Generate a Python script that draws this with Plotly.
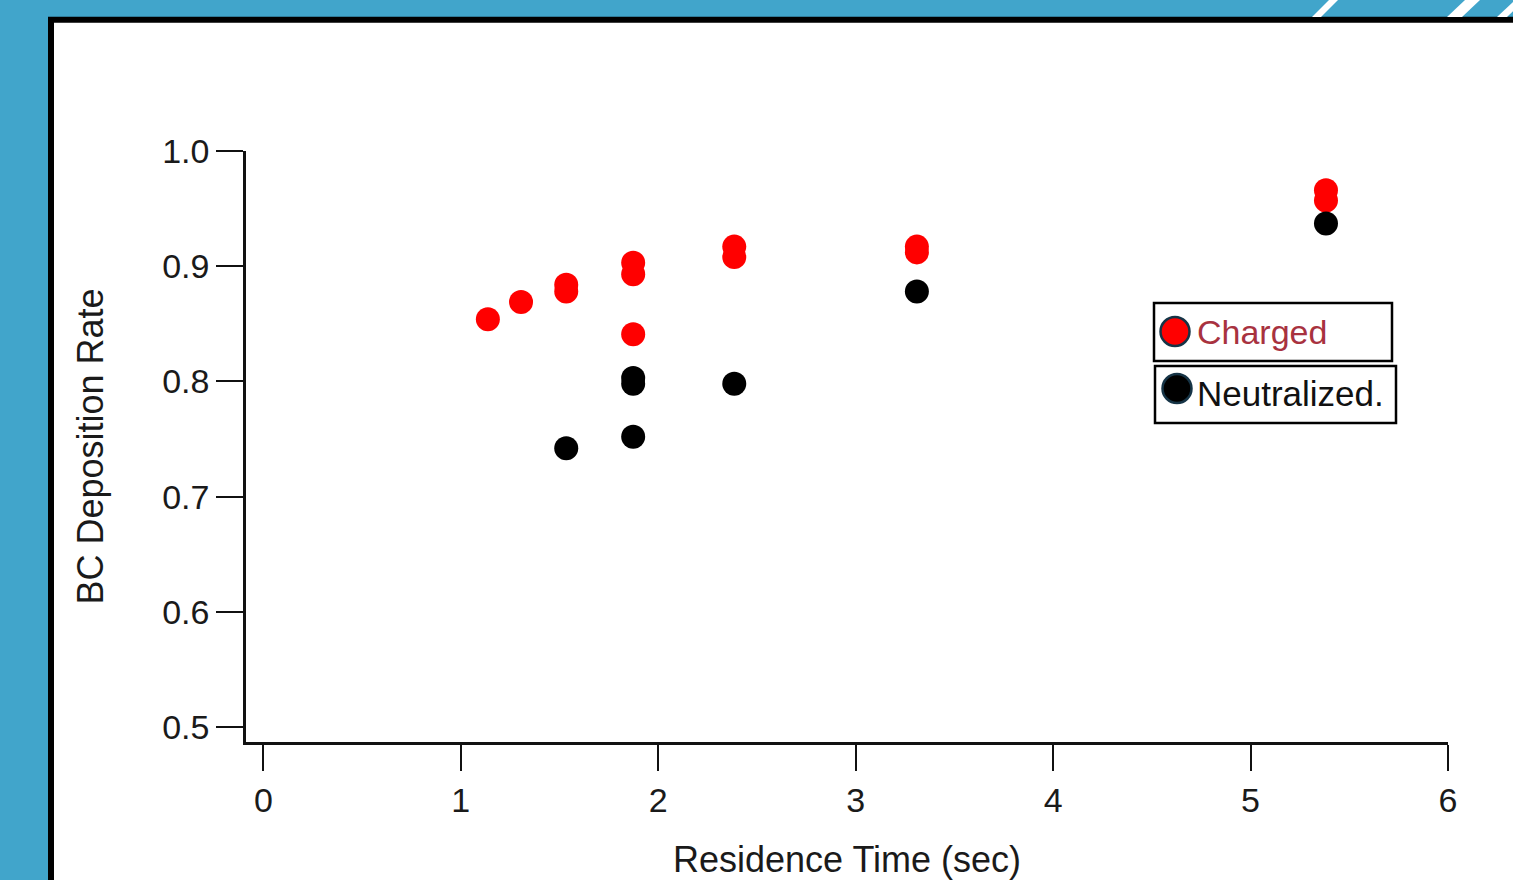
import plotly.graph_objects as go

# ---- data ----
charged_x = [1.137, 1.305, 1.534, 1.534, 1.873, 1.873, 1.873, 2.385, 2.385, 3.310, 3.310, 5.382, 5.382]
charged_y = [0.854, 0.869, 0.884, 0.878, 0.903, 0.893, 0.841, 0.917, 0.908, 0.917, 0.912, 0.966, 0.957]

neutral_x = [1.534, 1.873, 1.873, 1.873, 2.385, 3.310, 5.382]
neutral_y = [0.742, 0.803, 0.798, 0.752, 0.798, 0.878, 0.937]

x_ticks = [0, 1, 2, 3, 4, 5, 6]
y_ticks = [0.5, 0.6, 0.7, 0.8, 0.9, 1.0]
y_tick_labels = ["0.5", "0.6", "0.7", "0.8", "0.9", "1.0"]

series_names = ["Charged", "Neutralized."]
x_title = "Residence Time (sec)"
y_title = "BC Deposition Rate"

# ---- layout geometry ----
W, H = 1513, 880
L, R, T, B = 246, 1448, 151, 742
PW, PH = R - L, B - T

def px(x):
    return (x - L) / PW

def py(y):
    return (B - y) / PH

FONT = "Liberation Sans, Arial, sans-serif"
BLUE = "#41a5cb"

fig = go.Figure()
fig.add_trace(go.Scatter(x=charged_x, y=charged_y, mode="markers", name=series_names[0],
                         marker=dict(color="#ff0000", size=24, line=dict(width=0)),
                         showlegend=False, cliponaxis=False))
fig.add_trace(go.Scatter(x=neutral_x, y=neutral_y, mode="markers", name=series_names[1],
                         marker=dict(color="#000000", size=24, line=dict(width=0)),
                         showlegend=False, cliponaxis=False))

shapes = []
# white panel with black border
shapes.append(dict(type="rect", xref="paper", yref="paper", layer="below",
                   x0=px(51), x1=px(1530), y0=py(900), y1=py(19.7),
                   fillcolor="white", line=dict(color="black", width=6)))
# decorative stripes in the top band
def poly(pts):
    s = "M " + " L ".join(f"{px(a):.5f},{py(b):.5f}" for a, b in pts) + " Z"
    return dict(type="path", xref="paper", yref="paper", path=s, layer="below",
                fillcolor="white", line=dict(width=0))
shapes.append(poly([(1312, 17), (1321, 17), (1338, 0), (1329, 0)]))
shapes.append(poly([(1447, 17), (1462, 17), (1480, 0), (1465, 0)]))
shapes.append(poly([(1497, 17), (1507, 17), (1525, 0), (1515, 0)]))

# legend boxes
shapes.append(dict(type="rect", xref="paper", yref="paper", x0=px(1154), x1=px(1392), y0=py(361), y1=py(303),
                   fillcolor="white", line=dict(color="black", width=2.5)))
shapes.append(dict(type="rect", xref="paper", yref="paper", x0=px(1155), x1=px(1396), y0=py(423), y1=py(366),
                   fillcolor="white", line=dict(color="black", width=2.5)))
# legend symbols
for (cx, cy, col) in [(1175, 331.5, "#ff0000"), (1177, 388.5, "#000000")]:
    r = 14.5
    shapes.append(dict(type="circle", xref="paper", yref="paper",
                       x0=px(cx - r), x1=px(cx + r), y0=py(cy + r), y1=py(cy - r),
                       fillcolor=col, line=dict(color="#163446", width=2.5)))

annotations = [
    dict(xref="paper", yref="paper", x=px(1195), y=py(332), text=series_names[0], showarrow=False,
         xanchor="left", yanchor="middle", font=dict(family=FONT, size=34, color="#a8323f")),
    dict(xref="paper", yref="paper", x=px(1195), y=py(393), text=series_names[1], showarrow=False,
         xanchor="left", yanchor="middle", font=dict(family=FONT, size=35, color="#111111")),
]

fig.update_layout(
    width=W, height=H, autosize=False,
    margin=dict(l=L, r=W - R, t=T, b=H - B, pad=0),
    paper_bgcolor=BLUE, plot_bgcolor="rgba(0,0,0,0)",
    shapes=shapes, annotations=annotations,
    font=dict(family=FONT, color="#1a1a1a"),
    xaxis=dict(range=[-0.088, 6.0], tickvals=x_ticks, ticks="outside", ticklen=26, tickwidth=2,
               tickcolor="#111", showline=True, linecolor="#111", linewidth=2.5, showgrid=False,
               zeroline=False, automargin=False, tickfont=dict(size=34, family=FONT, color="#1a1a1a"),
               title=dict(text=x_title, font=dict(size=36, family=FONT, color="#1a1a1a"), standoff=30)),
    yaxis=dict(range=[0.487, 1.0], tickvals=y_ticks, ticktext=y_tick_labels, ticks="outside", ticklen=27,
               tickwidth=2, tickcolor="#111", showline=True, linecolor="#111", linewidth=2.5,
               showgrid=False, zeroline=False, automargin=False, tickfont=dict(size=34, family=FONT, color="#1a1a1a"),
               title=dict(text=y_title, font=dict(size=36, family=FONT, color="#1a1a1a"), standoff=48)),
)

fig.write_html("out.html")
